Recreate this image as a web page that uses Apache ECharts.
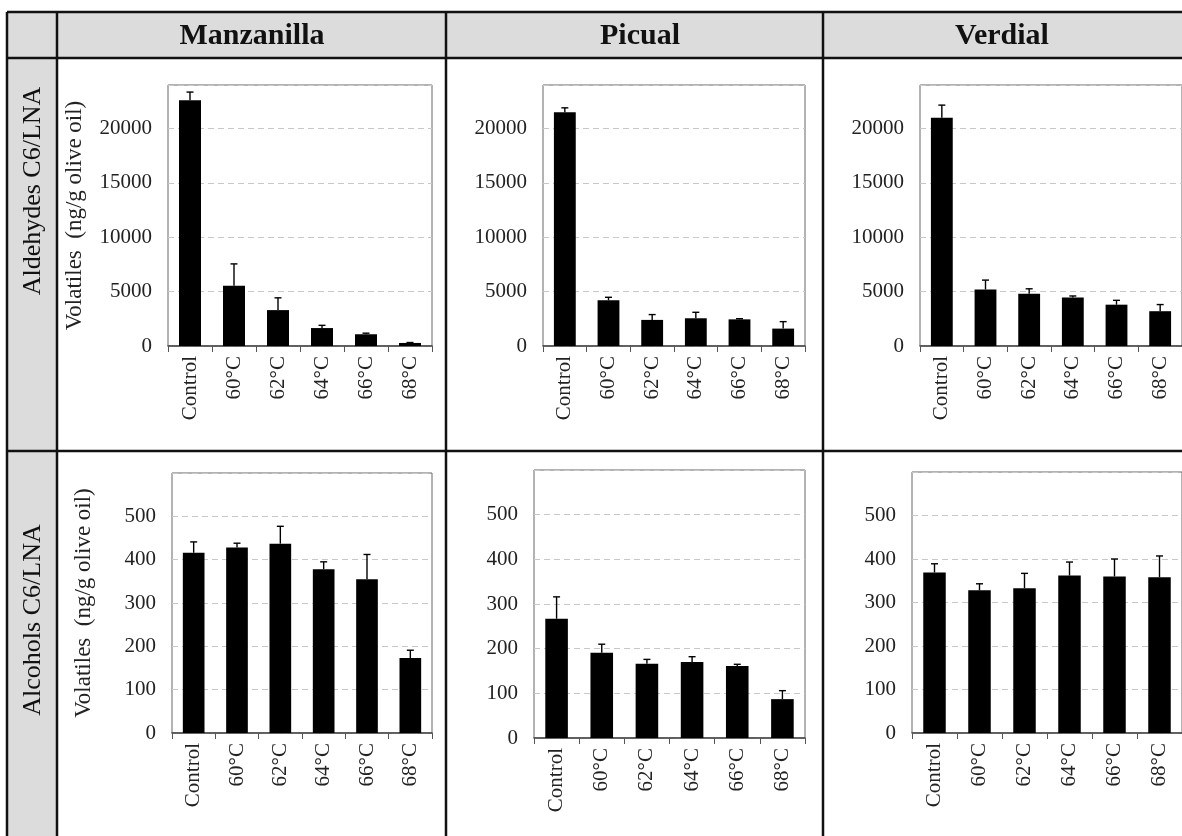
<!DOCTYPE html>
<html>
<head>
<meta charset="utf-8">
<title>C6 volatiles by cultivar and treatment</title>
<script src="https://cdn.jsdelivr.net/npm/echarts@6/dist/echarts.min.js"></script>
<style>
  html, body { margin: 0; padding: 0; background: #fff; }
  #chart { width: 1182px; height: 836px; }
</style>
</head>
<body>
<div id="chart"></div>
<script>
// Treatments on the x axis
const categories = ['Control', '60°C', '62°C', '64°C', '66°C', '68°C'];
const cultivars = ['Manzanilla', 'Picual', 'Verdial'];
const groups = ['Aldehydes C6/LNA', 'Alcohols C6/LNA'];
const yTitle = 'Volatiles  (ng/g olive oil)';

// Aldehydes C6/LNA (ng/g olive oil): mean and standard deviation
const aldManzanilla    = [22600, 5550, 3300, 1650, 1080, 280];
const aldManzanillaErr = [750, 2000, 1130, 250, 100, 40];
const aldPicual        = [21500, 4200, 2400, 2550, 2450, 1600];
const aldPicualErr     = [400, 280, 490, 550, 60, 640];
const aldVerdial       = [21000, 5200, 4800, 4450, 3800, 3200];
const aldVerdialErr    = [1150, 860, 460, 150, 400, 610];

// Alcohols C6/LNA (ng/g olive oil): mean and standard deviation
const alcManzanilla    = [416, 428, 437, 378, 355, 173];
const alcManzanillaErr = [25, 10, 40, 17, 57, 18];
const alcPicual        = [267, 191, 166, 170, 161, 87];
const alcPicualErr     = [49, 19, 10, 12, 4, 19];
const alcVerdial       = [369, 328, 333, 362, 360, 358];
const alcVerdialErr    = [20, 15, 34, 31, 40, 49];

// Value axis ranges per row
const aldAxis = { min: 0, max: 24000, interval: 5000 };
const alcAxis = { min: 0, max: 600, interval: 100 };

const serif = "'Liberation Serif', 'Times New Roman', serif";

const panels = [
  { mean: aldManzanilla, err: aldManzanillaErr, axis: aldAxis, grid: { left: 168, top: 85, width: 264, height: 261 }, title: true,  nameGap: 82 },
  { mean: aldPicual,     err: aldPicualErr,     axis: aldAxis, grid: { left: 543, top: 85, width: 262, height: 261 }, title: false },
  { mean: aldVerdial,    err: aldVerdialErr,    axis: aldAxis, grid: { left: 920, top: 85, width: 262, height: 261 }, title: false },
  { mean: alcManzanilla, err: alcManzanillaErr, axis: alcAxis, grid: { left: 172, top: 473, width: 260, height: 260 }, title: true,  nameGap: 77 },
  { mean: alcPicual,     err: alcPicualErr,     axis: alcAxis, grid: { left: 534, top: 470, width: 271, height: 268 }, title: false },
  { mean: alcVerdial,    err: alcVerdialErr,    axis: alcAxis, grid: { left: 912, top: 472, width: 270, height: 261 }, title: false }
];

const grids = [], xAxes = [], yAxes = [], series = [];

panels.forEach((p, k) => {
  grids.push(Object.assign({
    show: true, borderColor: '#666', borderWidth: 1, backgroundColor: 'transparent', containLabel: false
  }, p.grid));

  xAxes.push({
    type: 'category', gridIndex: k, data: categories, boundaryGap: true,
    axisLine: { show: true, lineStyle: { color: '#444', width: 1.5 } },
    axisTick: { show: true, length: 6, inside: false, alignWithLabel: false, lineStyle: { color: '#555' } },
    axisLabel: { rotate: 90, margin: 10, fontFamily: serif, fontSize: 21, color: '#222' },
    splitLine: { show: false }
  });

  yAxes.push({
    type: 'value', gridIndex: k, min: p.axis.min, max: p.axis.max, interval: p.axis.interval,
    name: p.title ? yTitle : '', nameLocation: 'middle', nameRotate: 90, nameGap: p.nameGap || 0,
    nameTextStyle: { fontFamily: serif, fontSize: 23, color: '#222' },
    axisLine: { show: false }, axisTick: { show: false },
    axisLabel: {
      showMaxLabel: false, margin: 16, fontFamily: serif, fontSize: 21, color: '#222',
      formatter: (v) => String(v)
    },
    splitLine: { show: true, lineStyle: { color: '#c8c8c8', width: 1, type: [6, 4] } }
  });

  series.push({
    type: 'bar', xAxisIndex: k, yAxisIndex: k, data: p.mean,
    barWidth: '50%', itemStyle: { color: '#000' }, silent: true, z: 2
  });

  series.push({
    type: 'custom', xAxisIndex: k, yAxisIndex: k, silent: true, z: 3,
    data: p.mean.map((m, i) => [i, m, p.err[i]]),
    encode: { x: 0, y: 1 },
    renderItem: (params, api) => {
      const i = api.value(0), m = api.value(1), e = api.value(2);
      const base = api.coord([i, m]);
      const top = api.coord([i, m + e]);
      const half = 3.5;
      const st = { stroke: '#000', lineWidth: 1.4 };
      return {
        type: 'group',
        children: [
          { type: 'line', shape: { x1: base[0], y1: base[1], x2: top[0], y2: top[1] }, style: st },
          { type: 'line', shape: { x1: top[0] - half, y1: top[1], x2: top[0] + half, y2: top[1] }, style: st }
        ]
      };
    }
  });
});

// Table frame: header row, row-label column, dividing lines
const W = 1182, H = 836;
const tbl = { left: 7, top: 12, labelCol: 57, headBottom: 58, col1: 446, col2: 823, row1: 451 };
const lineStyle = { stroke: '#111', lineWidth: 2.5 };
const hLine = (y) => ({ type: 'line', shape: { x1: tbl.left, y1: y, x2: W + 5, y2: y }, style: lineStyle, z: 10 });
const vLine = (x, y0) => ({ type: 'line', shape: { x1: x, y1: y0, x2: x, y2: H + 5 }, style: lineStyle, z: 10 });

const headerCenters = [252, 640, 1002];
const rowCenters = [191, 620];

const graphic = [
  { type: 'rect', shape: { x: tbl.left, y: tbl.top, width: W - tbl.left + 5, height: tbl.headBottom - tbl.top }, style: { fill: '#dcdcdc' }, z: 1 },
  { type: 'rect', shape: { x: tbl.left, y: tbl.top, width: tbl.labelCol - tbl.left, height: H - tbl.top + 5 }, style: { fill: '#dcdcdc' }, z: 1 },
  hLine(tbl.top), hLine(tbl.headBottom), hLine(tbl.row1),
  vLine(tbl.left, tbl.top), vLine(tbl.labelCol, tbl.top), vLine(tbl.col1, tbl.top), vLine(tbl.col2, tbl.top)
];

cultivars.forEach((c, i) => {
  graphic.push({
    type: 'text', x: headerCenters[i], y: 36, z: 11,
    style: { text: c, fontFamily: serif, fontSize: 30, fontWeight: 'bold', fill: '#111', align: 'center', verticalAlign: 'middle' }
  });
});

groups.forEach((g, i) => {
  graphic.push({
    type: 'text', x: 33, y: rowCenters[i], rotation: Math.PI / 2, z: 11,
    style: { text: g, fontFamily: serif, fontSize: 26, fill: '#111', align: 'center', verticalAlign: 'middle' }
  });
});

const chart = echarts.init(document.getElementById('chart'), null, { renderer: 'canvas' });
chart.setOption({
  animation: false,
  backgroundColor: '#fff',
  grid: grids,
  xAxis: xAxes,
  yAxis: yAxes,
  series: series,
  graphic: graphic
});
</script>
</body>
</html>
